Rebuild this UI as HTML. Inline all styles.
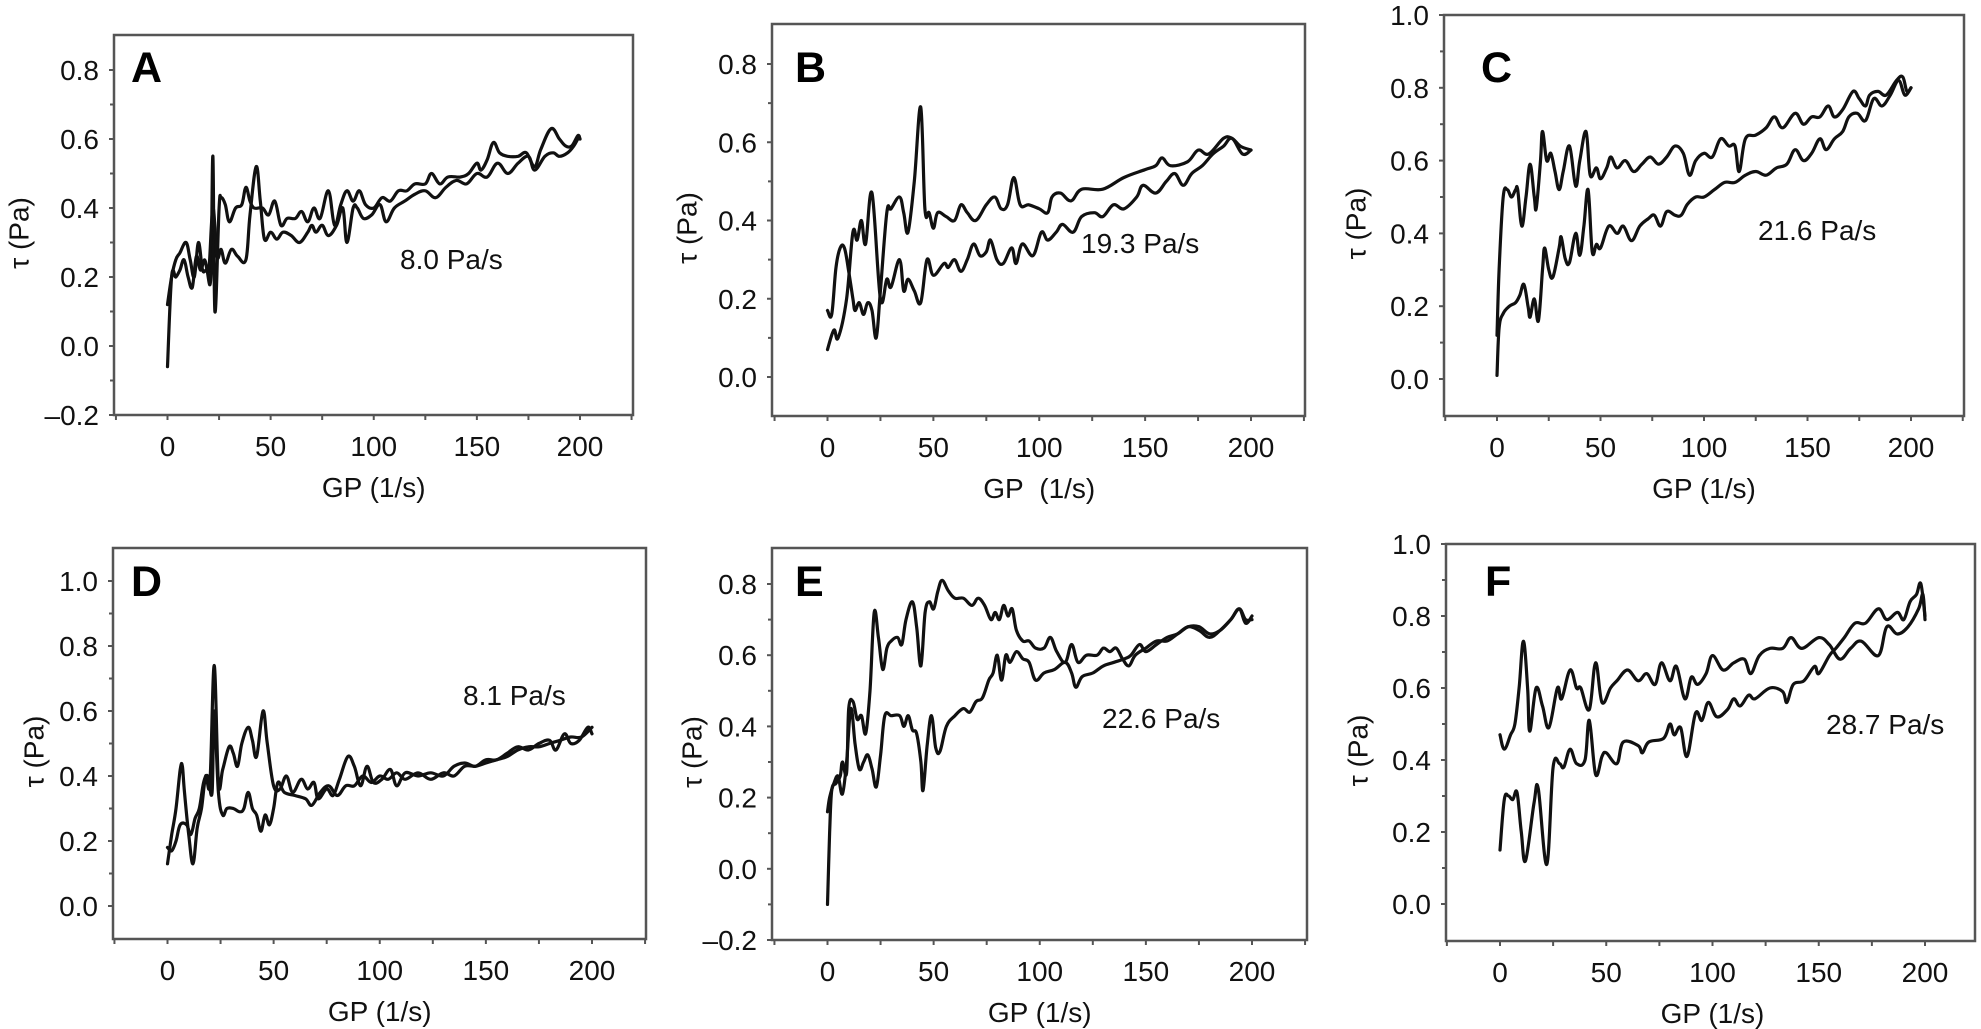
<!DOCTYPE html>
<html><head><meta charset="utf-8"><style>
html,body{margin:0;padding:0;background:#fff;}
svg{display:block;font-family:"Liberation Sans",Arial,sans-serif;}
</style></head><body>
<svg id="fig" width="1981" height="1029" viewBox="0 0 1981 1029" xmlns="http://www.w3.org/2000/svg"></svg>
<script>
// ---- data: shear rate GP (1/s) and shear stress tau (Pa), two branches per panel ----
const aGP1=[0,2,4,6,9,11,13,15,17,19,21,22,23,25,26,28,30,33,36,38,40,42,46,49,52,55,58,62,65,68,71,74,78,81,84,87,90,93,96,100,104,108,112,116,120,125,128,132,136,142,146,150,152,155,158,161,165,170,174,178,181,186,190,193,196,199,200];
const aTau1=[0.12,0.2,0.25,0.27,0.3,0.25,0.2,0.3,0.22,0.22,0.2,0.55,0.1,0.4,0.43,0.41,0.36,0.4,0.41,0.46,0.42,0.4,0.4,0.38,0.42,0.35,0.37,0.37,0.39,0.36,0.4,0.37,0.45,0.35,0.41,0.45,0.42,0.45,0.41,0.4,0.43,0.42,0.45,0.45,0.47,0.47,0.5,0.47,0.49,0.49,0.5,0.53,0.51,0.54,0.59,0.56,0.55,0.55,0.56,0.52,0.57,0.63,0.6,0.58,0.58,0.61,0.6];
const aGP2=[0,2,4,6,8,10,12,14,16,18,20,22,24,26,28,31,34,38,40,43,45,47,50,53,56,60,64,68,70,72,75,78,82,85,87,90,92,95,99,103,106,110,115,120,125,130,135,140,145,150,155,160,165,170,175,178,183,187,190,194,197,199,200];
const aTau2=[-0.06,0.2,0.2,0.22,0.25,0.2,0.17,0.26,0.22,0.25,0.22,0.4,0.26,0.28,0.24,0.28,0.26,0.25,0.38,0.52,0.42,0.31,0.33,0.31,0.33,0.32,0.3,0.33,0.35,0.33,0.35,0.32,0.35,0.4,0.3,0.4,0.4,0.37,0.38,0.41,0.36,0.4,0.42,0.44,0.45,0.43,0.46,0.48,0.47,0.5,0.49,0.53,0.5,0.53,0.55,0.51,0.55,0.56,0.55,0.56,0.58,0.6,0.6];

const bGP1=[0,2,4,6,8,10,12,13,15,17,19,21,23,25,28,30,34,36,38,41,44,46,48,50,52,56,60,63,66,70,75,79,82,85,88,91,95,100,104,106,110,115,120,130,140,150,155,158,162,170,175,180,187,191,195,200];
const bTau1=[0.17,0.16,0.28,0.33,0.33,0.27,0.2,0.17,0.19,0.16,0.19,0.17,0.1,0.22,0.42,0.43,0.46,0.42,0.37,0.5,0.69,0.43,0.42,0.38,0.42,0.41,0.4,0.44,0.42,0.4,0.44,0.46,0.43,0.44,0.51,0.44,0.44,0.43,0.42,0.46,0.47,0.45,0.48,0.48,0.51,0.53,0.54,0.56,0.54,0.55,0.58,0.57,0.61,0.61,0.59,0.58];
const bGP2=[0,3,5,9,12,14,16,18,21,25,28,30,34,36,38,41,44,47,50,55,57,60,63,66,69,72,75,77,80,83,87,89,92,97,101,104,108,111,116,120,126,130,135,140,146,149,155,160,164,168,172,177,182,187,191,196,200];
const bTau2=[0.07,0.12,0.1,0.2,0.37,0.35,0.4,0.34,0.47,0.2,0.25,0.23,0.3,0.22,0.25,0.22,0.19,0.3,0.26,0.29,0.28,0.3,0.27,0.3,0.34,0.31,0.32,0.35,0.3,0.29,0.33,0.29,0.34,0.31,0.37,0.35,0.37,0.39,0.37,0.41,0.42,0.41,0.44,0.43,0.46,0.49,0.47,0.5,0.52,0.49,0.52,0.54,0.57,0.59,0.61,0.57,0.58];

const cGP1=[0,1,3,5,7,9,10,12,14,16,18,19,21,22,24,26,28,30,32,35,38,40,43,45,48,50,53,55,58,62,66,70,74,78,82,86,90,93,96,100,104,108,112,115,117,120,125,130,134,138,144,148,152,156,160,163,167,172,175,178,180,184,188,193,196,198,200];
const cTau1=[0.12,0.3,0.5,0.52,0.5,0.52,0.52,0.42,0.5,0.59,0.5,0.47,0.6,0.68,0.6,0.62,0.57,0.52,0.57,0.64,0.53,0.6,0.68,0.56,0.58,0.55,0.58,0.61,0.58,0.6,0.57,0.59,0.61,0.59,0.61,0.64,0.62,0.56,0.6,0.62,0.61,0.66,0.64,0.64,0.57,0.66,0.67,0.69,0.72,0.69,0.73,0.7,0.72,0.72,0.75,0.72,0.74,0.79,0.77,0.75,0.78,0.79,0.78,0.82,0.83,0.79,0.8];
const cGP2=[0,1,3,6,9,11,13,15,16,18,20,22,23,25,27,30,31,33,35,38,40,42,44,46,48,50,54,58,61,65,69,73,76,79,82,86,89,92,96,100,105,110,115,120,125,130,135,140,144,148,152,156,159,163,167,170,174,178,182,186,190,194,197,200];
const cTau2=[0.01,0.14,0.18,0.2,0.21,0.23,0.26,0.2,0.17,0.22,0.16,0.3,0.36,0.3,0.28,0.36,0.39,0.33,0.32,0.4,0.34,0.42,0.52,0.35,0.37,0.36,0.42,0.4,0.42,0.38,0.42,0.44,0.45,0.42,0.46,0.45,0.45,0.48,0.5,0.5,0.52,0.54,0.54,0.56,0.57,0.56,0.58,0.59,0.63,0.6,0.62,0.66,0.63,0.66,0.68,0.72,0.73,0.71,0.77,0.75,0.78,0.82,0.78,0.8];

const dGP1=[0,2,4,6,7,8,10,12,14,16,18,20,22,24,26,29,31,33,35,38,40,42,45,47,50,53,56,59,63,66,69,71,75,78,81,85,88,91,94,97,101,105,108,112,118,124,130,135,140,145,150,155,160,165,170,175,180,183,187,190,194,198,200];
const dTau1=[0.13,0.22,0.3,0.42,0.43,0.35,0.22,0.13,0.24,0.3,0.4,0.38,0.74,0.38,0.42,0.49,0.47,0.43,0.5,0.55,0.51,0.46,0.6,0.5,0.37,0.36,0.4,0.35,0.39,0.36,0.38,0.33,0.36,0.34,0.39,0.46,0.43,0.37,0.43,0.38,0.39,0.42,0.37,0.41,0.4,0.41,0.4,0.43,0.44,0.43,0.45,0.45,0.47,0.49,0.48,0.5,0.51,0.48,0.53,0.5,0.51,0.55,0.53];
const dGP2=[0,2,4,6,9,11,13,15,17,19,21,22,24,26,28,31,34,36,38,40,42,44,46,48,50,52,55,60,65,68,72,76,80,84,88,92,96,100,104,108,112,118,124,130,135,140,145,150,155,160,165,170,175,180,185,190,195,200];
const dTau2=[0.18,0.17,0.2,0.25,0.25,0.22,0.27,0.3,0.38,0.4,0.35,0.6,0.35,0.28,0.3,0.3,0.29,0.3,0.35,0.3,0.28,0.23,0.28,0.25,0.3,0.38,0.35,0.34,0.33,0.31,0.35,0.37,0.34,0.37,0.37,0.4,0.38,0.4,0.39,0.41,0.39,0.41,0.39,0.41,0.4,0.43,0.43,0.44,0.45,0.46,0.48,0.49,0.49,0.5,0.51,0.52,0.52,0.55];

const eGP1=[0,1,2,4,6,7,9,10,12,14,16,18,20,22,24,26,28,30,33,35,37,40,42,44,46,48,50,52,54,57,60,64,68,71,74,77,79,81,83,85,87,89,92,95,98,102,105,108,112,115,118,122,127,130,133,136,139,142,145,150,155,160,165,170,175,180,185,190,194,197,200];
const eTau1=[-0.1,0.1,0.22,0.24,0.26,0.3,0.27,0.45,0.47,0.42,0.43,0.38,0.5,0.72,0.65,0.56,0.62,0.64,0.65,0.63,0.7,0.75,0.68,0.57,0.72,0.75,0.73,0.78,0.81,0.78,0.76,0.76,0.74,0.76,0.74,0.7,0.72,0.7,0.74,0.71,0.73,0.67,0.64,0.64,0.62,0.62,0.65,0.61,0.58,0.63,0.58,0.6,0.6,0.62,0.61,0.62,0.59,0.57,0.6,0.62,0.64,0.64,0.66,0.68,0.67,0.65,0.67,0.7,0.73,0.69,0.71];
const eGP2=[0,1,3,5,7,9,11,13,15,17,19,21,23,25,27,30,34,36,38,40,42,44,45,47,49,51,53,56,60,64,67,70,73,76,78,80,82,84,86,89,92,95,98,102,107,112,115,117,120,125,130,135,140,143,147,150,155,160,165,170,175,180,185,190,194,197,200];
const eTau2=[0.16,0.2,0.24,0.26,0.21,0.3,0.45,0.35,0.28,0.3,0.32,0.28,0.23,0.32,0.43,0.43,0.43,0.4,0.43,0.39,0.38,0.3,0.22,0.35,0.43,0.34,0.33,0.4,0.43,0.45,0.44,0.47,0.48,0.53,0.55,0.6,0.53,0.6,0.58,0.61,0.59,0.58,0.53,0.55,0.56,0.58,0.55,0.51,0.54,0.55,0.57,0.58,0.59,0.6,0.63,0.61,0.63,0.65,0.66,0.68,0.68,0.66,0.67,0.7,0.73,0.7,0.7];

const fGP1=[0,2,5,7,9,11,13,14,17,20,23,27,29,33,36,38,42,45,48,52,55,60,65,69,73,76,80,83,87,90,93,97,100,105,110,115,118,122,127,133,137,142,150,155,160,165,170,178,182,187,192,197,199,200];
const fTau1=[0.47,0.43,0.47,0.5,0.6,0.73,0.6,0.48,0.6,0.55,0.49,0.6,0.57,0.65,0.6,0.6,0.54,0.67,0.56,0.6,0.62,0.65,0.62,0.64,0.61,0.67,0.62,0.66,0.57,0.63,0.61,0.64,0.69,0.65,0.67,0.68,0.64,0.69,0.71,0.71,0.74,0.71,0.74,0.72,0.68,0.71,0.73,0.69,0.77,0.75,0.77,0.82,0.86,0.79];
const fGP2=[0,2,4,6,8,10,12,16,18,22,25,28,30,33,36,40,42,45,48,50,55,58,65,67,70,77,80,82,85,88,92,95,98,102,107,110,113,117,120,127,133,135,138,143,148,150,155,158,162,167,172,178,182,187,190,193,196,198,200];
const fTau2=[0.15,0.29,0.3,0.29,0.31,0.2,0.12,0.28,0.32,0.11,0.38,0.39,0.38,0.43,0.39,0.4,0.51,0.36,0.41,0.42,0.39,0.45,0.44,0.42,0.45,0.46,0.5,0.47,0.49,0.41,0.53,0.51,0.56,0.52,0.54,0.57,0.55,0.58,0.57,0.6,0.59,0.56,0.61,0.62,0.66,0.64,0.69,0.71,0.74,0.78,0.78,0.82,0.79,0.81,0.79,0.84,0.86,0.89,0.8];

const yTicksA=[-0.2,0,0.2,0.4,0.6,0.8];
const yTicksB=[0,0.2,0.4,0.6,0.8];
const yTicks10=[0,0.2,0.4,0.6,0.8,1.0];
const xTicks=[0,50,100,150,200];
const rates=["8.0 Pa/s","19.3 Pa/s","21.6 Pa/s","8.1 Pa/s","22.6 Pa/s","28.7 Pa/s"];

// ---- layout (pixels) ----
const panels=[
 {id:'a',L:114,R:633,T:35,B:415,x0:167.5,x200:580,v1:0.8,p1:70,v2:-0.2,p2:415,yt:yTicksA,lx:19,gp:"GP (1/s)",ax:400,ay:269,s1:[aGP1,aTau1],s2:[aGP2,aTau2],letter:"A",lt:[131,82]},
 {id:'b',L:772,R:1305,T:24,B:416,x0:827.5,x200:1251,v1:0.8,p1:64,v2:0,p2:377,yt:yTicksB,lx:687,gp:"GP\u00a0\u00a0(1/s)",ax:1081,ay:253,s1:[bGP1,bTau1],s2:[bGP2,bTau2],letter:"B",lt:[795,82]},
 {id:'c',L:1444,R:1964,T:15,B:416,x0:1497,x200:1911,v1:1.0,p1:15,v2:0,p2:379,yt:yTicks10,lx:1356,gp:"GP (1/s)",ax:1758,ay:240,s1:[cGP1,cTau1],s2:[cGP2,cTau2],letter:"C",lt:[1481,82]},
 {id:'d',L:113,R:646,T:548,B:939,x0:167.5,x200:592,v1:1.0,p1:581,v2:0,p2:906,yt:yTicks10,lx:34,gp:"GP (1/s)",ax:463,ay:705,s1:[dGP1,dTau1],s2:[dGP2,dTau2],letter:"D",lt:[131,596]},
 {id:'e',L:772,R:1307,T:548,B:940,x0:827.5,x200:1252,v1:0.8,p1:584,v2:-0.2,p2:940,yt:yTicksA,lx:692,gp:"GP (1/s)",ax:1102,ay:728,s1:[eGP1,eTau1],s2:[eGP2,eTau2],letter:"E",lt:[795,596]},
 {id:'f',L:1446,R:1975,T:544,B:941,x0:1500,x200:1925,v1:1.0,p1:544,v2:0,p2:904,yt:yTicks10,lx:1358,gp:"GP (1/s)",ax:1826,ay:734,s1:[fGP1,fTau1],s2:[fGP2,fTau2],letter:"F",lt:[1485,596]}
];

const NS="http://www.w3.org/2000/svg";
const svg=document.getElementById('fig');
function mk(tag,attrs,parent){const e=document.createElementNS(NS,tag);for(const k in attrs)e.setAttribute(k,attrs[k]);(parent||svg).appendChild(e);return e;}
function fmt(v){const s=Math.abs(v).toFixed(1);return v<0?"\u2013"+s:s;}
function smoothPath(P){
  let d='M'+P[0][0].toFixed(1)+','+P[0][1].toFixed(1);
  for(let i=0;i<P.length-1;i++){
    const p0=P[Math.max(0,i-1)],p1=P[i],p2=P[i+1],p3=P[Math.min(P.length-1,i+2)];
    const t=0.18;
    const c1=[p1[0]+(p2[0]-p0[0])*t,p1[1]+(p2[1]-p0[1])*t];
    const c2=[p2[0]-(p3[0]-p1[0])*t,p2[1]-(p3[1]-p1[1])*t];
    d+=' C'+c1[0].toFixed(1)+','+c1[1].toFixed(1)+' '+c2[0].toFixed(1)+','+c2[1].toFixed(1)+' '+p2[0].toFixed(1)+','+p2[1].toFixed(1);
  }
  return d;
}

panels.forEach((p,i)=>{
  const g=mk('g',{});
  
  
  const xs=v=>p.x0+(v/200)*(p.x200-p.x0);
  const ys=v=>p.p1+(v-p.v1)*(p.p2-p.p1)/(p.v2-p.v1);
  const fr=mk('rect',{x:p.L,y:p.T,width:p.R-p.L,height:p.B-p.T,fill:'none',stroke:'#555','stroke-width':2.5},g);
  
  
  const step=p.yt[1]-p.yt[0];
  p.yt.forEach(v=>{
    const y=ys(v);
    mk('line',{x1:p.L-5,x2:p.L,y1:y,y2:y,stroke:'#555','stroke-width':2},g);
    const ym=ys(v+step/2);
    if(ym>p.T+2) mk('line',{x1:p.L-4,x2:p.L,y1:ym,y2:ym,stroke:'#555','stroke-width':2},g);
    const t=mk('text',{x:p.L-15,y:y+10,'text-anchor':'end','font-size':28,fill:'#111'},g);
    t.textContent=fmt(v);
    
    
  });
  const ymb=ys(p.yt[0]-step/2);
  if(ymb<p.B-2) mk('line',{x1:p.L-4,x2:p.L,y1:ymb,y2:ymb,stroke:'#555','stroke-width':2},g);
  for(let v=-25;v<=225;v+=25){
    const x=xs(v);
    if(x<p.L-1||x>p.R+1)continue;
    mk('line',{x1:x,x2:x,y1:p.B,y2:p.B+5,stroke:'#555','stroke-width':2},g);
  }
  xTicks.forEach(v=>{
    const t=mk('text',{x:xs(v),y:p.B+41,'text-anchor':'middle','font-size':28,fill:'#111'},g);
    t.textContent=String(v);
    
    
  });
  const xt=mk('text',{x:(p.x0+p.x200)/2,y:p.B+82,'text-anchor':'middle','font-size':28,fill:'#111'},g);
  xt.textContent=p.gp;
  
  
  const yc=(p.T+p.B)/2+8;
  const yt=mk('text',{x:p.lx,y:yc,'text-anchor':'middle','dominant-baseline':'central','font-size':28,fill:'#111',transform:'rotate(-90 '+p.lx+' '+yc+')'},g);
  yt.textContent="\u03c4 (Pa)";
  
  
  [p.s1,p.s2].forEach((s,k)=>{
    const P=s[0].map((x,j)=>[xs(x),ys(s[1][j])]);
    const pl=mk('path',{d:smoothPath(P),fill:'none',stroke:'#111','stroke-width':3.2,'stroke-linejoin':'round','stroke-linecap':'round'},g);
    
    
  });
  const lt=mk('text',{x:p.lt[0],y:p.lt[1],'font-size':43,'font-weight':'bold',fill:'#000'},g);
  lt.textContent=p.letter;
  
  
  const an=mk('text',{x:p.ax,y:p.ay,'font-size':28,fill:'#111'},g);
  an.textContent=rates[i];
  
  
});
</script>
</body></html>
